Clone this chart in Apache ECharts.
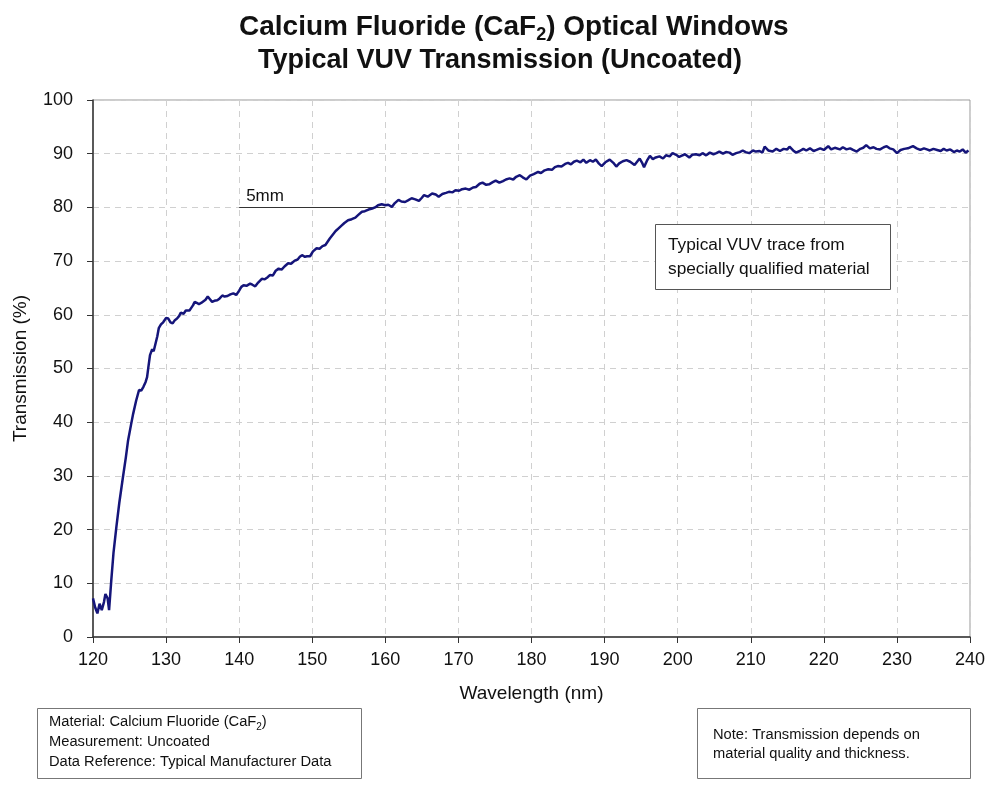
<!DOCTYPE html>
<html>
<head>
<meta charset="utf-8">
<title>CaF2 VUV Transmission</title>
<script src="https://cdn.jsdelivr.net/npm/echarts@6/dist/echarts.min.js"></script>
<style>
  html, body { margin: 0; padding: 0; background: #fff; }
  #chart { width: 1000px; height: 800px; }
</style>
</head>
<body>
<div id="chart"></div>
<script>
// transmission trace, [wavelength nm, transmission %]
const trace = [
  [120.0, 7.2], [120.3, 5.5], [120.6, 4.4], [120.9, 6.2], [121.2, 5.0], [121.5, 6.5], [121.7, 8.0],
  [122.0, 7.2], [122.2, 5.0], [122.5, 10.5], [122.8, 15.6], [123.2, 20.5], [123.6, 25.0], [124.1, 29.8],
  [124.5, 33.5], [124.8, 36.6], [125.2, 39.5], [125.5, 41.6], [125.9, 44.0], [126.3, 46.0], [126.6, 45.9],
  [126.9, 46.6], [127.2, 47.5], [127.4, 48.4], [127.6, 50.5], [127.8, 52.5], [128.1, 53.6], [128.3, 53.2],
  [128.5, 53.4], [128.8, 56.0], [129.0, 57.5], [129.3, 58.2], [129.6, 58.6], [130.0, 59.4], [130.3, 59.3],
  [130.6, 58.6], [130.9, 58.4], [131.2, 59.0], [131.5, 59.3], [131.8, 59.8], [132.0, 60.4], [132.4, 60.2],
  [132.7, 60.8], [132.9, 61.0], [133.2, 60.8], [133.4, 61.2], [133.7, 61.8], [133.9, 62.4], [134.2, 62.2],
  [134.5, 62.0], [134.8, 62.2], [135.0, 62.1], [135.4, 62.8], [135.7, 63.4], [136.0, 62.9], [136.3, 62.4],
  [136.6, 62.6], [137.0, 62.7], [137.3, 63.0], [137.7, 63.6], [138.0, 63.4], [138.4, 63.5], [138.8, 63.8],
  [139.2, 64.0], [139.6, 63.7], [140.0, 64.5], [140.3, 65.2], [140.6, 65.5], [141.0, 65.4], [141.5, 65.8],
  [141.8, 65.6], [142.2, 65.3], [142.6, 66.0], [143.1, 66.7], [143.5, 66.6], [143.9, 67.0], [144.2, 67.4],
  [144.6, 67.3], [145.0, 68.2], [145.4, 68.6], [145.8, 68.4], [146.2, 69.0], [146.7, 69.6], [147.1, 69.5],
  [147.6, 70.1], [148.0, 70.3], [148.3, 70.8], [148.6, 71.1], [149.0, 70.8], [149.3, 70.9], [149.7, 70.9],
  [150.1, 71.8], [150.6, 72.4], [151.0, 72.3], [151.4, 72.8], [151.8, 73.0], [152.1, 73.6], [152.4, 74.2],
  [152.8, 74.9], [153.2, 75.6], [153.6, 76.1], [154.0, 76.6], [154.4, 77.1], [154.9, 77.6], [155.4, 77.8],
  [155.9, 78.1], [156.3, 78.6], [156.8, 79.2], [157.2, 79.3], [157.7, 79.6], [158.2, 79.8], [158.6, 80.0],
  [159.0, 80.4], [159.5, 80.6], [160.0, 80.4], [160.4, 80.5], [160.9, 80.1], [161.3, 80.8], [161.8, 81.4],
  [162.2, 81.1], [162.7, 81.0], [163.1, 81.3], [163.6, 81.7], [164.1, 81.5], [164.6, 81.2], [165.0, 81.8],
  [165.3, 82.3], [165.8, 82.0], [166.4, 82.6], [166.9, 82.4], [167.3, 82.0], [167.8, 82.5], [168.3, 82.7],
  [168.7, 82.9], [169.2, 82.8], [169.6, 83.2], [170.1, 83.1], [170.5, 83.4], [171.0, 83.5], [171.5, 83.3],
  [172.0, 83.7], [172.4, 83.8], [172.9, 84.4], [173.3, 84.6], [173.8, 84.2], [174.2, 84.3], [174.7, 84.7],
  [175.1, 85.0], [175.6, 84.6], [176.1, 84.9], [176.5, 85.2], [177.0, 85.4], [177.5, 85.2], [177.9, 85.7],
  [178.4, 86.0], [178.8, 85.6], [179.3, 85.2], [179.8, 85.9], [180.3, 86.2], [180.9, 86.6], [181.3, 86.4],
  [181.8, 86.9], [182.3, 87.1], [182.8, 87.0], [183.2, 87.5], [183.6, 87.7], [184.1, 87.6], [184.6, 88.1],
  [185.0, 88.3], [185.4, 88.0], [185.8, 88.5], [186.2, 88.7], [186.7, 88.4], [187.1, 88.9], [187.5, 88.3],
  [188.0, 88.8], [188.4, 88.5], [188.8, 88.9], [189.2, 88.2], [189.6, 87.7], [190.1, 88.4], [190.7, 88.9],
  [191.2, 88.3], [191.6, 87.6], [192.0, 88.2], [192.5, 88.6], [193.0, 88.8], [193.5, 88.5], [194.1, 87.9],
  [194.5, 88.6], [194.8, 89.1], [195.1, 88.4], [195.4, 87.5], [195.8, 88.7], [196.2, 89.6], [196.6, 89.0],
  [197.0, 89.3], [197.5, 89.5], [198.0, 89.1], [198.4, 89.7], [198.9, 89.5], [199.3, 90.1], [199.8, 89.8],
  [200.2, 89.4], [200.5, 89.6], [201.0, 89.9], [201.6, 89.3], [202.0, 89.8], [202.5, 89.9], [203.0, 89.7],
  [203.4, 90.1], [203.9, 89.7], [204.4, 90.2], [204.9, 89.9], [205.3, 90.1], [205.7, 90.4], [206.2, 90.0],
  [206.6, 90.3], [207.1, 90.2], [207.5, 89.8], [208.0, 90.1], [208.5, 90.3], [208.9, 90.6], [209.3, 90.3],
  [209.8, 90.1], [210.3, 90.6], [210.7, 90.4], [211.2, 90.5], [211.6, 90.2], [211.9, 91.3], [212.4, 90.6],
  [213.0, 90.4], [213.5, 90.9], [214.0, 90.5], [214.5, 90.9], [215.0, 90.8], [215.3, 91.3], [215.8, 90.6],
  [216.2, 90.2], [216.7, 90.5], [217.2, 90.9], [217.6, 90.6], [218.1, 91.0], [218.6, 90.5], [219.0, 90.7],
  [219.5, 91.0], [220.0, 90.7], [220.6, 91.4], [221.0, 90.8], [221.5, 91.1], [222.2, 90.8], [222.6, 91.2],
  [223.1, 90.8], [223.6, 91.0], [224.0, 90.7], [224.5, 90.4], [225.0, 90.9], [225.4, 91.1], [225.8, 91.6],
  [226.3, 91.0], [226.8, 91.2], [227.2, 90.9], [227.7, 90.8], [228.2, 91.2], [228.6, 91.4], [229.0, 91.0],
  [229.5, 90.8], [230.0, 90.1], [230.5, 90.7], [231.0, 90.9], [231.5, 91.0], [232.2, 91.4], [232.7, 91.0],
  [233.2, 90.7], [233.7, 91.0], [234.1, 90.8], [234.5, 90.6], [235.0, 90.9], [235.5, 90.7], [236.0, 90.5],
  [236.4, 90.9], [236.8, 90.6], [237.3, 90.8], [237.8, 90.3], [238.2, 90.6], [238.6, 90.4], [239.0, 90.8],
  [239.4, 90.2], [239.8, 90.6], [240.0, 90.5]
]

// "5mm" thickness marker line
const markerFrom = [140, 80]
const markerTo = [160, 80]
const markerLabel = '5mm'

const noteTrace = ['Typical VUV trace from', 'specially qualified material']
const infoLines = ['Material: Calcium Fluoride (CaF{sub|2})', 'Measurement: Uncoated', 'Data Reference: Typical Manufacturer Data']
const noteLines = ['Note: Transmission depends on', 'material quality and thickness.']

const font = 'Liberation Sans, Arial, sans-serif'
const chart = echarts.init(document.getElementById('chart'))

chart.setOption({
  backgroundColor: '#fff',
  textStyle: { fontFamily: font },
  title: [
    {
      text: 'Calcium Fluoride (CaF{sub|2}) Optical Windows',
      left: 234, top: 6,
      textStyle: {
        fontSize: 28, fontWeight: 'bold', color: '#111', fontFamily: font,
        rich: { sub: { fontSize: 18, fontWeight: 'bold', color: '#111', verticalAlign: 'bottom', padding: [15, 0, 0, 0] } }
      }
    },
    {
      text: 'Typical VUV Transmission (Uncoated)',
      left: 'center', top: 42,
      textStyle: { fontSize: 27, fontWeight: 'bold', color: '#111', fontFamily: font }
    }
  ],
  grid: {
    left: 93, right: 30, top: 100, bottom: 163,
    outerBoundsMode: 'none',
    show: true, borderColor: '#999', borderWidth: 1
  },
  xAxis: {
    type: 'value', min: 120, max: 240, interval: 10,
    name: 'Wavelength (nm)', nameLocation: 'middle', nameGap: 47,
    nameTextStyle: { fontSize: 19, color: '#111' },
    axisLine: { onZero: false, lineStyle: { color: '#333', width: 1.5 } },
    axisTick: { length: 6, lineStyle: { color: '#333' } },
    axisLabel: { fontSize: 18, color: '#111', margin: 14 },
    splitLine: { lineStyle: { color: '#d0d0d0', type: [6, 5] } }
  },
  yAxis: {
    type: 'value', min: 0, max: 100, interval: 10,
    name: 'Transmission (%)', nameLocation: 'middle', nameGap: 63, nameRotate: 90,
    nameTextStyle: { fontSize: 19, color: '#111' },
    axisLine: { show: true, onZero: false, lineStyle: { color: '#333', width: 1.5 } },
    axisTick: { show: true, length: 6, lineStyle: { color: '#333' } },
    axisLabel: { fontSize: 18, color: '#111', margin: 20 },
    splitLine: { lineStyle: { color: '#d0d0d0', type: [6, 5] } }
  },
  series: [
    {
      type: 'line',
      data: trace,
      showSymbol: false,
      smooth: false,
      lineStyle: { color: '#15157a', width: 2.5 },
      z: 5,
      markLine: {
        silent: true,
        symbol: 'none',
        lineStyle: { color: '#333', width: 1, type: 'solid' },
        label: { show: true, formatter: markerLabel, position: 'insideStartTop', fontSize: 17, color: '#111', distance: [7, 3] },
        data: [[{ coord: markerFrom }, { coord: markerTo }]]
      }
    }
  ],
  graphic: [
    {
      type: 'rect', left: 655, top: 224, z: 10,
      shape: { width: 235, height: 65 },
      style: { fill: '#fff', stroke: '#555', lineWidth: 1 }
    },
    {
      type: 'text', left: 668, top: 233, z: 11,
      style: { text: noteTrace.join('\n'), font: '17.3px ' + font, fill: '#111', lineHeight: 24 }
    },
    {
      type: 'rect', left: 37, top: 708, z: 10,
      shape: { width: 324, height: 70 },
      style: { fill: '#fff', stroke: '#777', lineWidth: 1 }
    },
    {
      type: 'text', left: 49, top: 712, z: 11,
      style: {
        text: infoLines.join('\n'), font: '14.7px ' + font, fill: '#111', lineHeight: 20,
        rich: { sub: { fontSize: 10, fontFamily: font, fill: '#111', verticalAlign: 'bottom', padding: [8, 0, 0, 0] } }
      }
    },
    {
      type: 'rect', left: 697, top: 708, z: 10,
      shape: { width: 273, height: 70 },
      style: { fill: '#fff', stroke: '#777', lineWidth: 1 }
    },
    {
      type: 'text', left: 713, top: 725, z: 11,
      style: { text: noteLines.join('\n'), font: '14.7px ' + font, fill: '#111', lineHeight: 19 }
    }
  ]
})
</script>
</body>
</html>
